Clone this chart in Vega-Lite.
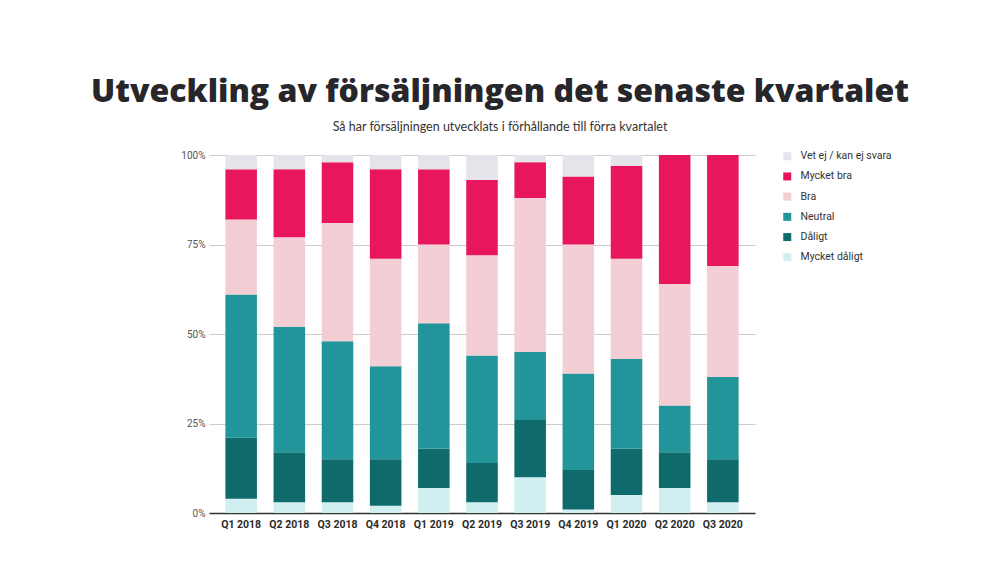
{
  "$schema": "https://vega.github.io/schema/vega-lite/v6.json",
  "width": 546,
  "height": 358,
  "autosize": "none",
  "padding": {"left": 209, "top": 155, "right": 245, "bottom": 49},
  "background": "white",
  "title": {
    "text": "Utveckling av försäljningen det senaste kvartalet",
    "subtitle": "Så har försäljningen utvecklats i förhållande till förra kvartalet",
    "anchor": "middle",
    "frame": "group",
    "dx": 18,
    "offset": 16,
    "font": "Open Sans",
    "fontSize": 32,
    "fontWeight": 800,
    "color": "#26262b",
    "subtitleFont": "Lato",
    "subtitleFontSize": 12.5,
    "subtitleColor": "#333333",
    "subtitlePadding": 12
  },
  "data": {
    "values": [
      {"kvartal": "Q1 2018", "Mycket dåligt": 4, "Dåligt": 17, "Neutral": 40, "Bra": 21, "Mycket bra": 14, "Vet ej / kan ej svara": 4},
      {"kvartal": "Q2 2018", "Mycket dåligt": 3, "Dåligt": 14, "Neutral": 35, "Bra": 25, "Mycket bra": 19, "Vet ej / kan ej svara": 4},
      {"kvartal": "Q3 2018", "Mycket dåligt": 3, "Dåligt": 12, "Neutral": 33, "Bra": 33, "Mycket bra": 17, "Vet ej / kan ej svara": 2},
      {"kvartal": "Q4 2018", "Mycket dåligt": 2, "Dåligt": 13, "Neutral": 26, "Bra": 30, "Mycket bra": 25, "Vet ej / kan ej svara": 4},
      {"kvartal": "Q1 2019", "Mycket dåligt": 7, "Dåligt": 11, "Neutral": 35, "Bra": 22, "Mycket bra": 21, "Vet ej / kan ej svara": 4},
      {"kvartal": "Q2 2019", "Mycket dåligt": 3, "Dåligt": 11, "Neutral": 30, "Bra": 28, "Mycket bra": 21, "Vet ej / kan ej svara": 7},
      {"kvartal": "Q3 2019", "Mycket dåligt": 10, "Dåligt": 16, "Neutral": 19, "Bra": 43, "Mycket bra": 10, "Vet ej / kan ej svara": 2},
      {"kvartal": "Q4 2019", "Mycket dåligt": 1, "Dåligt": 11, "Neutral": 27, "Bra": 36, "Mycket bra": 19, "Vet ej / kan ej svara": 6},
      {"kvartal": "Q1 2020", "Mycket dåligt": 5, "Dåligt": 13, "Neutral": 25, "Bra": 28, "Mycket bra": 26, "Vet ej / kan ej svara": 3},
      {"kvartal": "Q2 2020", "Mycket dåligt": 7, "Dåligt": 10, "Neutral": 13, "Bra": 34, "Mycket bra": 36, "Vet ej / kan ej svara": 0},
      {"kvartal": "Q3 2020", "Mycket dåligt": 3, "Dåligt": 12, "Neutral": 23, "Bra": 31, "Mycket bra": 31, "Vet ej / kan ej svara": 0}
    ]
  },
  "transform": [
    {"fold": ["Mycket dåligt", "Dåligt", "Neutral", "Bra", "Mycket bra", "Vet ej / kan ej svara"], "as": ["svar", "andel"]},
    {"calculate": "indexof(['Mycket dåligt', 'Dåligt', 'Neutral', 'Bra', 'Mycket bra', 'Vet ej / kan ej svara'], datum.svar)", "as": "ordning"}
  ],
  "mark": {"type": "bar"},
  "encoding": {
    "x": {
      "field": "kvartal",
      "type": "nominal",
      "sort": null,
      "scale": {"paddingInner": 0.345, "paddingOuter": 0.34},
      "axis": {
        "title": null,
        "labelAngle": 0,
        "labelFont": "Roboto",
        "labelFontSize": 10.5,
        "labelFontWeight": "bold",
        "labelColor": "#2b2b2b",
        "labelPadding": 6,
        "ticks": false,
        "domainColor": "#333333",
        "domainWidth": 1.5
      }
    },
    "y": {
      "field": "andel",
      "type": "quantitative",
      "stack": "zero",
      "scale": {"domain": [0, 100], "nice": false},
      "axis": {
        "title": null,
        "values": [0, 25, 50, 75, 100],
        "labelExpr": "datum.value + '%'",
        "labelFont": "Roboto",
        "labelFontSize": 10,
        "labelColor": "#555555",
        "labelPadding": 4,
        "ticks": false,
        "domain": false,
        "gridColor": "#cccccc"
      }
    },
    "order": {"field": "ordning", "type": "quantitative"},
    "color": {
      "field": "svar",
      "type": "nominal",
      "scale": {
        "domain": ["Vet ej / kan ej svara", "Mycket bra", "Bra", "Neutral", "Dåligt", "Mycket dåligt"],
        "range": ["#e4e4ea", "#e8175d", "#f3ced5", "#22959a", "#0e6a6b", "#d1eef0"]
      },
      "legend": {
        "title": null,
        "orient": "none",
        "legendX": 573,
        "legendY": -4,
        "symbolType": "square",
        "symbolSize": 64,
        "symbolStrokeWidth": 0,
        "labelFont": "Roboto",
        "labelFontSize": 10.5,
        "labelColor": "#333333",
        "labelOffset": 8,
        "rowPadding": 9.2,
        "padding": 0
      }
    }
  },
  "config": {"view": {"stroke": null}}
}
